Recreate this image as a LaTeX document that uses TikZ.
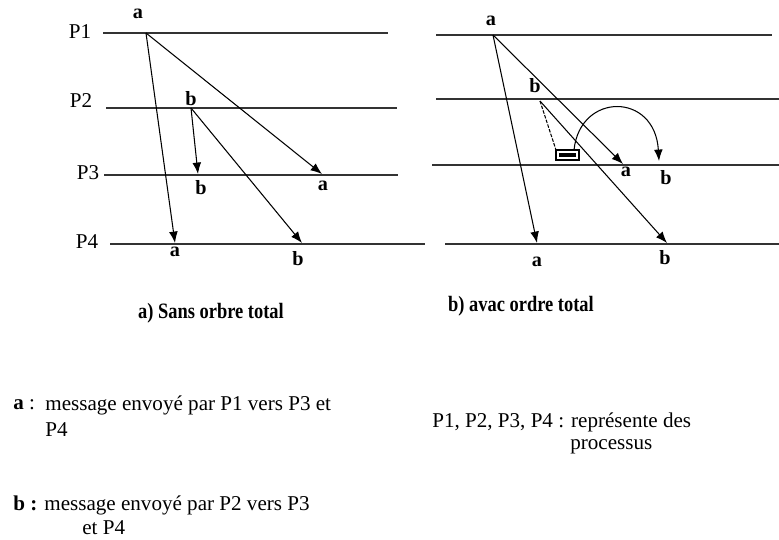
\documentclass[tikz,border=0pt]{standalone}
\usepackage{fontspec}
\setmainfont{Liberation Serif}
\usetikzlibrary{arrows.meta}

\tikzset{
  ligne/.style={line width=0.8pt, draw=black!80},
  msg/.style={line width=0.6pt, -{Latex[length=6.5pt,width=5pt]}},
  lab/.style={font=\fontsize{11.5}{13}\selectfont\bfseries, inner sep=0pt},
  proc/.style={font=\fontsize{12}{14}\selectfont, inner sep=0pt},
  legende/.style={font=\fontsize{12}{14}\selectfont, inner sep=0pt, anchor=west},
  titre/.style={font=\fontsize{12.5}{14}\selectfont\bfseries, inner sep=0pt},
}

\begin{document}
\begin{tikzpicture}[x=0.02cm,y=-0.02cm]
\useasboundingbox (0,0) rectangle (779,539);

% a) sans ordre total
\draw[ligne] (103,33) -- (388,33);
\draw[ligne] (106,108) -- (397,108);
\draw[ligne] (104,175) -- (398,175);
\draw[ligne] (110,244) -- (425,244);

\node[proc] (p1) at (80,32) {P1};
\node[proc] (p2) at (81,101) {P2};
\node[proc] (p3) at (88,173) {P3};
\node[proc] (p4) at (87,242) {P4};

\coordinate (a1) at (146,33);
\coordinate (a1p3) at (322,174);
\coordinate (a1p4) at (175,243);
\coordinate (b1) at (191,108);
\coordinate (b1p3) at (198,174);
\coordinate (b1p4) at (302,243);

\draw[msg] (a1) -- (a1p3);
\draw[msg] (a1) -- (a1p4);
\draw[msg] (b1) -- (b1p3);
\draw[msg] (b1) -- (b1p4);

\node[lab] (la) at (138,14) {a};
\node[lab] (lb) at (191,99) {b};
\node[lab] (lb3) at (201,188) {b};
\node[lab] (la3) at (323,186) {a};
\node[lab] (la4) at (175,252) {a};
\node[lab] (lb4) at (298,259) {b};

% b) avec ordre total
\draw[ligne] (436,35) -- (772,35);
\draw[ligne] (436,99) -- (779,99);
\draw[ligne] (432,165) -- (779,165);
\draw[ligne] (445,244) -- (779,244);

\coordinate (a2) at (493,35);
\coordinate (a2p3) at (623,164);
\coordinate (a2p4) at (537,243);
\coordinate (b2) at (540,101);
\coordinate (b2p4) at (667,243);
\coordinate (b2p3) at (659,161);

\draw[msg] (a2) -- (a2p3);
\draw[msg] (a2) -- (a2p4);
\draw[msg] (b2) -- (b2p4);

% file d'attente
\draw[line width=0.6pt] (556,150) rectangle (579,160);
\draw[line width=2pt] (559,155) -- (576,155);
\coordinate (q) at (556,150);
\coordinate (qout) at (574,150);
\draw[dash pattern=on 2pt off 0.8pt, line width=0.6pt] (b2) -- (q);
\draw[msg] (qout) .. controls (580,92) and (655,92) .. (b2p3);

\node[lab] (la) at (491,21) {a};
\node[lab] (lb) at (535,86) {b};
\node[lab] (la3) at (626,172) {a};
\node[lab] (lb3) at (666,178) {b};
\node[lab] (la4) at (537,262) {a};
\node[lab] (lb4) at (665,258) {b};

% titres
\node[titre] (ta) at (211,313) {\scalebox{0.84}[1]{a) Sans orbre total}};
\node[titre] (tb) at (521,306) {\scalebox{0.84}[1]{b) avac ordre total}};

% legende
\node[legende] (ga) at (13,405) {\textbf{a} :};
\node[legende] (ga1) at (45,405) {message envoyé par P1 vers P3 et};
\node[legende] (ga2) at (45,430) {P4};
\node[legende] (gb) at (13,505) {\textbf{b :} message envoyé par P2 vers P3};
\node[legende] (gb2) at (82,528) {et P4};
\node[legende] (gp) at (432,422) {P1, P2, P3, P4 : représente des};
\node[legende] (gp2) at (570,447) {processus};

\end{tikzpicture}
\end{document}
